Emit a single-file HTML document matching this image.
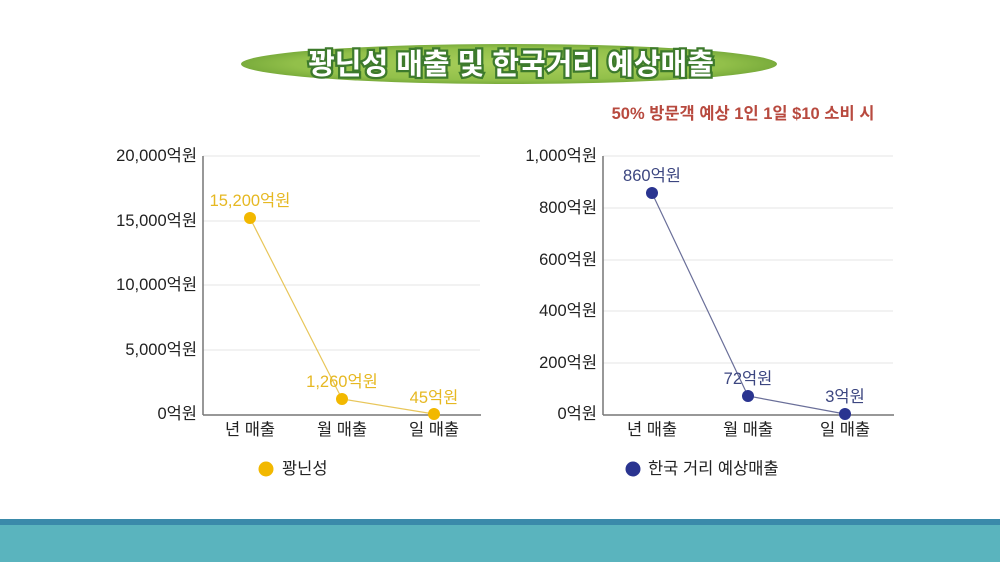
<!DOCTYPE html>
<html><head><meta charset="utf-8"><style>
body{margin:0;width:1000px;height:562px;overflow:hidden;background:#fff}
svg{display:block}
text{font-family:"Liberation Sans","Noto Sans CJK KR","NanumGothic",sans-serif}
</style></head><body>
<svg width="1000" height="562" viewBox="0 0 1000 562">
<defs>
<radialGradient id="g" cx="0.5" cy="0.5" r="0.5">
<stop offset="0" stop-color="#a8ce5a"/><stop offset="0.8" stop-color="#92c04a"/><stop offset="1" stop-color="#7aac3c"/>
</radialGradient>
</defs>
<ellipse cx="509" cy="64" rx="268" ry="20" fill="url(#g)"/>
<text x="511" y="74" text-anchor="middle" font-size="29" font-weight="bold" fill="#fff" stroke="#3d7a2c" stroke-width="4.5" paint-order="stroke">꽝닌성 매출 및 한국거리 예상매출</text>
<text x="743" y="119" text-anchor="middle" font-size="16.5" font-weight="bold" fill="#b84a3f">50% 방문객 예상 1인 1일 $10 소비 시</text>
<rect x="0" y="519" width="1000" height="6" fill="#3a8aaa"/>
<rect x="0" y="525" width="1000" height="37" fill="#5ab4be"/>
<g stroke="#e4e4e4" stroke-width="1">
<line x1="203" y1="156" x2="480" y2="156"/><line x1="203" y1="221" x2="480" y2="221"/><line x1="203" y1="285" x2="480" y2="285"/><line x1="203" y1="350" x2="480" y2="350"/>
<line x1="603" y1="156" x2="893" y2="156"/><line x1="603" y1="208" x2="893" y2="208"/><line x1="603" y1="260" x2="893" y2="260"/><line x1="603" y1="311" x2="893" y2="311"/><line x1="603" y1="363" x2="893" y2="363"/>
</g>
<g stroke="#777" stroke-width="1.5">
<line x1="203" y1="156" x2="203" y2="415"/><line x1="203" y1="415" x2="481" y2="415"/>
<line x1="603" y1="156" x2="603" y2="415"/><line x1="603" y1="415" x2="894" y2="415"/>
</g>
<g font-size="16.5" fill="#222" text-anchor="end">
<text x="197" y="161">20,000억원</text><text x="197" y="226">15,000억원</text><text x="197" y="290">10,000억원</text><text x="197" y="355">5,000억원</text><text x="197" y="419">0억원</text>
<text x="597" y="161">1,000억원</text><text x="597" y="213">800억원</text><text x="597" y="265">600억원</text><text x="597" y="316">400억원</text><text x="597" y="368">200억원</text><text x="597" y="419">0억원</text>
</g>
<g font-size="16.5" fill="#222" text-anchor="middle">
<text x="250" y="435">년 매출</text><text x="342" y="435">월 매출</text><text x="434" y="435">일 매출</text>
<text x="652" y="435">년 매출</text><text x="748" y="435">월 매출</text><text x="845" y="435">일 매출</text>
</g>
<polyline points="250,218 342,399 434,414" fill="none" stroke="#e8c65a" stroke-width="1.2"/>
<g fill="#f2b800"><circle cx="250" cy="218" r="6"/><circle cx="342" cy="399" r="6"/><circle cx="434" cy="414" r="6"/><circle cx="266" cy="469" r="7.5"/></g>
<g font-size="16.5" fill="#e6b822" text-anchor="middle">
<text x="250" y="206">15,200억원</text><text x="342" y="387">1,260억원</text><text x="434" y="403">45억원</text>
</g>
<text x="282" y="474" font-size="16.5" fill="#222">꽝닌성</text>
<polyline points="652,193 748,396 845,414" fill="none" stroke="#6a6f99" stroke-width="1.2"/>
<g fill="#2a3490"><circle cx="652" cy="193" r="6"/><circle cx="748" cy="396" r="6"/><circle cx="845" cy="414" r="6"/><circle cx="633" cy="469" r="7.5"/></g>
<g font-size="16.5" fill="#3c4680" text-anchor="middle">
<text x="652" y="181">860억원</text><text x="748" y="384">72억원</text><text x="845" y="402">3억원</text>
</g>
<text x="648" y="474" font-size="16.5" fill="#222">한국 거리 예상매출</text>
</svg>
</body></html>
